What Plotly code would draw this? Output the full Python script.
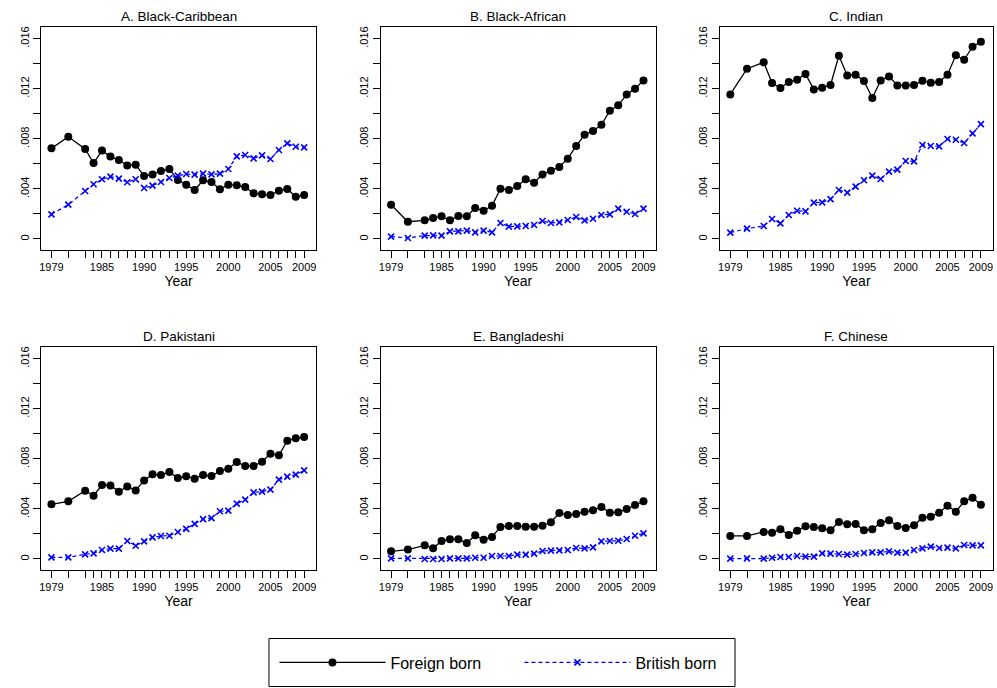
import plotly.graph_objects as go

# Survey years (no observations for 1980 and 1982)
years = [1979, 1981] + list(range(1983, 2010))

panel_titles = ["A. Black-Caribbean", "B. Black-African", "C. Indian",
                "D. Pakistani", "E. Bangladeshi", "F. Chinese"]

caribbean_foreign = [0.00724, 0.00817, 0.00719, 0.00607, 0.00706, 0.00658, 0.00631, 0.00588, 0.00594,
                     0.00503, 0.00516, 0.00543, 0.00559, 0.00471, 0.00434, 0.00391, 0.00469, 0.00455,
                     0.00397, 0.00434, 0.00429, 0.00415, 0.00365, 0.00357, 0.00351, 0.00386, 0.00399,
                     0.00338, 0.00351]
caribbean_british = [0.00197, 0.00274, 0.00383, 0.00437, 0.00477, 0.00498, 0.00482, 0.00453, 0.00477,
                     0.00407, 0.00426, 0.00455, 0.00487, 0.00506, 0.00519, 0.00514, 0.00522, 0.00516,
                     0.00522, 0.00559, 0.00660, 0.00671, 0.00644, 0.00668, 0.00639, 0.00711, 0.00764,
                     0.00737, 0.00732]

african_foreign = [0.00274, 0.00138, 0.00149, 0.00168, 0.00181, 0.00149, 0.00184, 0.00181, 0.00248,
                   0.00226, 0.00266, 0.00402, 0.00391, 0.00423, 0.00477, 0.00450, 0.00516, 0.00546,
                   0.00575, 0.00642, 0.00743, 0.00833, 0.00863, 0.00913, 0.01025, 0.01068, 0.01155,
                   0.01201, 0.01267]
african_british = [0.00019, 0.00008, 0.00027, 0.00029, 0.00027, 0.00061, 0.00061, 0.00067, 0.00053,
                   0.00067, 0.00053, 0.00128, 0.00099, 0.00101, 0.00104, 0.00112, 0.00144, 0.00128,
                   0.00133, 0.00152, 0.00176, 0.00149, 0.00162, 0.00192, 0.00197, 0.00242, 0.00218,
                   0.00200, 0.00242]

indian_foreign = [0.01155, 0.01360, 0.01411, 0.01246, 0.01206, 0.01254, 0.01273, 0.01318, 0.01195,
                  0.01209, 0.01230, 0.01464, 0.01307, 0.01313, 0.01262, 0.01126, 0.01267, 0.01299,
                  0.01227, 0.01227, 0.01230, 0.01265, 0.01249, 0.01254, 0.01313, 0.01467, 0.01432,
                  0.01536, 0.01576]
indian_british = [0.00051, 0.00083, 0.00104, 0.00160, 0.00125, 0.00192, 0.00226, 0.00221, 0.00290,
                  0.00293, 0.00319, 0.00391, 0.00370, 0.00418, 0.00469, 0.00506, 0.00479, 0.00538,
                  0.00554, 0.00623, 0.00620, 0.00751, 0.00743, 0.00740, 0.00799, 0.00793, 0.00767,
                  0.00844, 0.00918]

pakistani_foreign = [0.00437, 0.00461, 0.00546, 0.00506, 0.00591, 0.00588, 0.00538, 0.00580, 0.00548,
                     0.00628, 0.00676, 0.00671, 0.00695, 0.00647, 0.00660, 0.00642, 0.00671, 0.00663,
                     0.00703, 0.00721, 0.00775, 0.00743, 0.00743, 0.00777, 0.00841, 0.00828, 0.00945,
                     0.00964, 0.00974]
pakistani_british = [0.00013, 0.00013, 0.00037, 0.00045, 0.00072, 0.00083, 0.00083, 0.00144, 0.00106,
                     0.00141, 0.00173, 0.00184, 0.00186, 0.00216, 0.00240, 0.00280, 0.00319, 0.00327,
                     0.00381, 0.00386, 0.00442, 0.00474, 0.00532, 0.00538, 0.00554, 0.00634, 0.00658,
                     0.00674, 0.00708]

bangladeshi_foreign = [0.00061, 0.00075, 0.00109, 0.00085, 0.00144, 0.00157, 0.00157, 0.00128, 0.00189,
                       0.00154, 0.00176, 0.00256, 0.00264, 0.00264, 0.00258, 0.00258, 0.00266, 0.00293,
                       0.00367, 0.00351, 0.00359, 0.00378, 0.00389, 0.00415, 0.00370, 0.00373, 0.00399,
                       0.00431, 0.00461]
bangladeshi_british = [0.00005, 0.00005, 0.00000, 0.00000, 0.00000, 0.00005, 0.00005, 0.00005, 0.00010,
                       0.00010, 0.00024, 0.00024, 0.00024, 0.00035, 0.00035, 0.00043, 0.00064, 0.00067,
                       0.00069, 0.00072, 0.00088, 0.00085, 0.00093, 0.00141, 0.00144, 0.00146, 0.00160,
                       0.00186, 0.00205]

chinese_foreign = [0.00184, 0.00184, 0.00216, 0.00210, 0.00237, 0.00192, 0.00226, 0.00261, 0.00256,
                   0.00245, 0.00229, 0.00296, 0.00277, 0.00280, 0.00229, 0.00237, 0.00288, 0.00309,
                   0.00264, 0.00248, 0.00269, 0.00330, 0.00338, 0.00370, 0.00426, 0.00378, 0.00461,
                   0.00490, 0.00434]
chinese_british = [0.00003, 0.00005, 0.00003, 0.00010, 0.00016, 0.00016, 0.00024, 0.00019, 0.00019,
                   0.00045, 0.00043, 0.00040, 0.00035, 0.00040, 0.00048, 0.00053, 0.00053, 0.00061,
                   0.00051, 0.00051, 0.00072, 0.00085, 0.00099, 0.00088, 0.00091, 0.00085, 0.00112,
                   0.00109, 0.00109]

x_tick_years = [1979, 1985, 1990, 1995, 2000, 2005, 2009]
y_tick_vals = [0, 0.002, 0.004, 0.006, 0.008, 0.010, 0.012, 0.014, 0.016]
y_tick_text = ["0", "", ".004", "", ".008", "", ".012", "", ".016"]

series = [
    (caribbean_foreign, caribbean_british),
    (african_foreign, african_british),
    (indian_foreign, indian_british),
    (pakistani_foreign, pakistani_british),
    (bangladeshi_foreign, bangladeshi_british),
    (chinese_foreign, chinese_british),
]

W, H = 997, 688
FONT = "Liberation Sans, Arial, sans-serif"

# panel frames in pixels: (left, right, top, bottom)
col_px = [(39, 315), (379.3, 655), (719.3, 993)]
row_px = [(26.7, 250), (346.7, 570)]

fig = go.Figure()

for i, (foreign, british) in enumerate(series):
    r, c = divmod(i, 3)
    sfx = "" if i == 0 else str(i + 1)
    xa, ya = "x" + sfx, "y" + sfx
    fig.add_trace(go.Scatter(
        x=years, y=foreign, xaxis=xa, yaxis=ya, mode="lines+markers",
        name="Foreign born", legendgroup="fb", showlegend=(i == 0),
        line=dict(color="black", width=1.3),
        marker=dict(symbol="circle", size=8, color="black"),
    ))
    fig.add_trace(go.Scatter(
        x=years, y=british, xaxis=xa, yaxis=ya, mode="lines+markers",
        name="British born", legendgroup="bb", showlegend=(i == 0),
        line=dict(color="#0000ff", width=1.2, dash="4px,3px"),
        marker=dict(symbol="x-thin", size=6, color="#0000ff",
                    line=dict(color="#0000ff", width=1.6)),
    ))

    l, rgt = col_px[c]
    t, b = row_px[r]
    xdom = [l / W, rgt / W]
    ydom = [1 - b / H, 1 - t / H]
    axis_common = dict(showline=True, linecolor="black", linewidth=1, mirror=True,
                       showgrid=False, zeroline=False, ticks="outside", ticklen=7,
                       tickcolor="black", tickwidth=1,
                       tickfont=dict(family=FONT, size=11, color="black"))
    fig.layout["xaxis" + sfx] = dict(
        domain=xdom, anchor=ya, range=[1977.75, 2010.45],
        tickmode="array", tickvals=years,
        ticktext=[str(y) if y in x_tick_years else "" for y in years],
        title=dict(text="Year", font=dict(family=FONT, size=14, color="black"), standoff=0),
        **axis_common)
    fig.layout["yaxis" + sfx] = dict(
        domain=ydom, anchor=xa, range=[-0.00088, 0.01696],
        tickmode="array", tickvals=y_tick_vals, ticktext=y_tick_text, tickangle=-90,
        **axis_common)

    fig.add_annotation(text=panel_titles[i], xref="paper", yref="paper",
                       x=(l + rgt) / 2 / W, y=1 - (t - 10) / H, xanchor="center", yanchor="middle",
                       showarrow=False, font=dict(family=FONT, size=13.5, color="black"))

# legend frame
fig.add_shape(type="rect", xref="paper", yref="paper",
              x0=267.5 / W, x1=734.5 / W, y0=1 - 686.5 / H, y1=1 - 638.5 / H,
              line=dict(color="black", width=1), fillcolor="rgba(0,0,0,0)")

fig.update_layout(
    width=W, height=H,
    margin=dict(l=0, r=0, t=0, b=0),
    paper_bgcolor="white", plot_bgcolor="white",
    showlegend=True,
    legend=dict(orientation="h", x=273 / W, y=1 - 662.5 / H, xanchor="left", yanchor="middle",
                itemwidth=106, entrywidth=124, bgcolor="rgba(0,0,0,0)", borderwidth=0,
                font=dict(family=FONT, size=16, color="black"), itemclick=False),
)

fig.write_html("out.html")
